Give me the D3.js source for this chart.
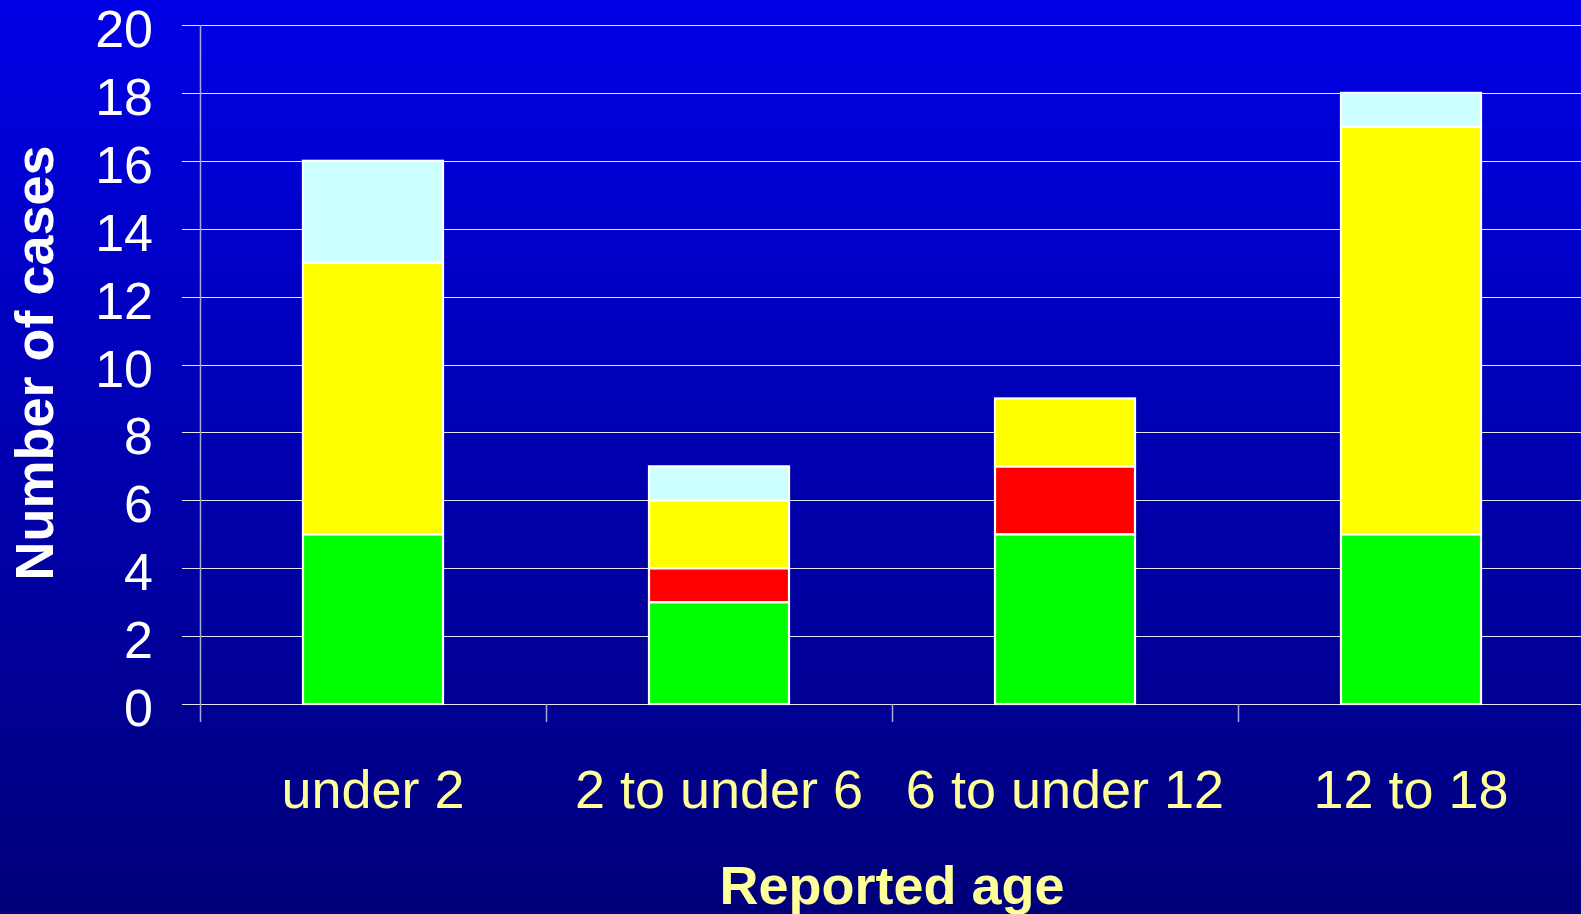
<!DOCTYPE html>
<html>
<head>
<meta charset="utf-8">
<script src="https://cdn.jsdelivr.net/npm/d3@7/dist/d3.min.js"></script>
<style>
  html, body { margin: 0; padding: 0; overflow: hidden; background: #000080; }
  svg { display: block; }
  text { font-family: "Liberation Sans", Arial, sans-serif; }
</style>
</head>
<body>
<svg id="chart" width="1581" height="914"></svg>
<script>
// ---- data ----
const categories = ["under 2", "2 to under 6", "6 to under 12", "12 to 18"];
const seriesNames = ["green", "red", "yellow", "lightcyan"];
const greenValues = [5, 3, 5, 5];
const redValues = [0, 1, 2, 0];
const yellowValues = [8, 2, 2, 12];
const cyanValues = [3, 1, 0, 1];
const yTicks = [0, 2, 4, 6, 8, 10, 12, 14, 16, 18, 20];
const yTitle = "Number of cases";
const xTitle = "Reported age";

// ---- layout ----
const W = 1581, H = 914;
const x0 = 200, step = 346, yBase = 704, yTop = 25;
const colors = { green: "#00FF00", red: "#FF0000", yellow: "#FFFF00", lightcyan: "#CCFFFF" };

const svg = d3.select("#chart");

const defs = svg.append("defs");
const grad = defs.append("linearGradient").attr("id", "bg").attr("x1", 0).attr("y1", 0).attr("x2", 0).attr("y2", 1);
grad.append("stop").attr("offset", "0%").attr("stop-color", "#0000E6");
grad.append("stop").attr("offset", "100%").attr("stop-color", "#00007A");
svg.append("rect").attr("width", W).attr("height", H).attr("fill", "url(#bg)");

const x = d3.scaleBand()
  .domain(categories)
  .range([x0, x0 + step * categories.length])
  .paddingInner(1 - 140 / step)
  .paddingOuter((1 - 140 / step) / 2);

const y = d3.scaleLinear().domain([0, 20]).range([yBase, yTop]);

// gridlines
svg.append("g").selectAll("line").data(yTicks).join("line")
  .attr("x1", 182).attr("x2", W)
  .attr("y1", d => Math.round(y(d)) + 0.5).attr("y2", d => Math.round(y(d)) + 0.5)
  .attr("stroke", "#E4E4FF").attr("stroke-width", 1);

// y axis line
svg.append("line")
  .attr("x1", x0 + 0.5).attr("x2", x0 + 0.5)
  .attr("y1", yTop).attr("y2", yBase + 18)
  .attr("stroke", "#A8A8D8").attr("stroke-width", 1.5);

// category separator ticks
const sepTicks = categories.map((c, i) => x0 + step * i).slice(1);
svg.append("g").selectAll("line").data(sepTicks).join("line")
  .attr("x1", d => d + 0.5).attr("x2", d => d + 0.5)
  .attr("y1", yBase).attr("y2", yBase + 18)
  .attr("stroke", "#A8A8D8").attr("stroke-width", 1.5);

// y tick labels
svg.append("g").selectAll("text").data(yTicks).join("text")
  .attr("x", 153).attr("y", d => y(d) + 22)
  .attr("text-anchor", "end")
  .attr("fill", "#FFFFFF")
  .attr("font-size", 52)
  .text(d => d);

// stacked bars
const rows = categories.map((c, i) => ({
  cat: c,
  green: greenValues[i], red: redValues[i], yellow: yellowValues[i], lightcyan: cyanValues[i]
}));
const stack = d3.stack().keys(seriesNames)(rows);

const gBars = svg.append("g");
stack.forEach(layer => {
  gBars.append("g").selectAll("rect")
    .data(layer.filter(d => d[1] - d[0] > 0))
    .join("rect")
    .attr("x", d => x(d.data.cat))
    .attr("width", x.bandwidth())
    .attr("y", d => y(d[1]))
    .attr("height", d => y(d[0]) - y(d[1]))
    .attr("fill", colors[layer.key])
    .attr("stroke", "#FFFFFF")
    .attr("stroke-width", 2.2);
});

// category labels
svg.append("g").selectAll("text").data(categories).join("text")
  .attr("x", d => x(d) + x.bandwidth() / 2)
  .attr("y", 808)
  .attr("text-anchor", "middle")
  .attr("fill", "#FFFF99")
  .attr("font-size", 54)
  .text(d => d);

// axis titles
svg.append("text")
  .attr("x", 892).attr("y", 904)
  .attr("text-anchor", "middle")
  .attr("fill", "#FFFF99")
  .attr("font-size", 54)
  .attr("font-weight", "bold")
  .text(xTitle);

svg.append("text")
  .attr("transform", "translate(53,363) rotate(-90)")
  .attr("text-anchor", "middle")
  .attr("fill", "#FFFFFF")
  .attr("font-size", 54)
  .attr("font-weight", "bold")
  .text(yTitle);
</script>
</body>
</html>
